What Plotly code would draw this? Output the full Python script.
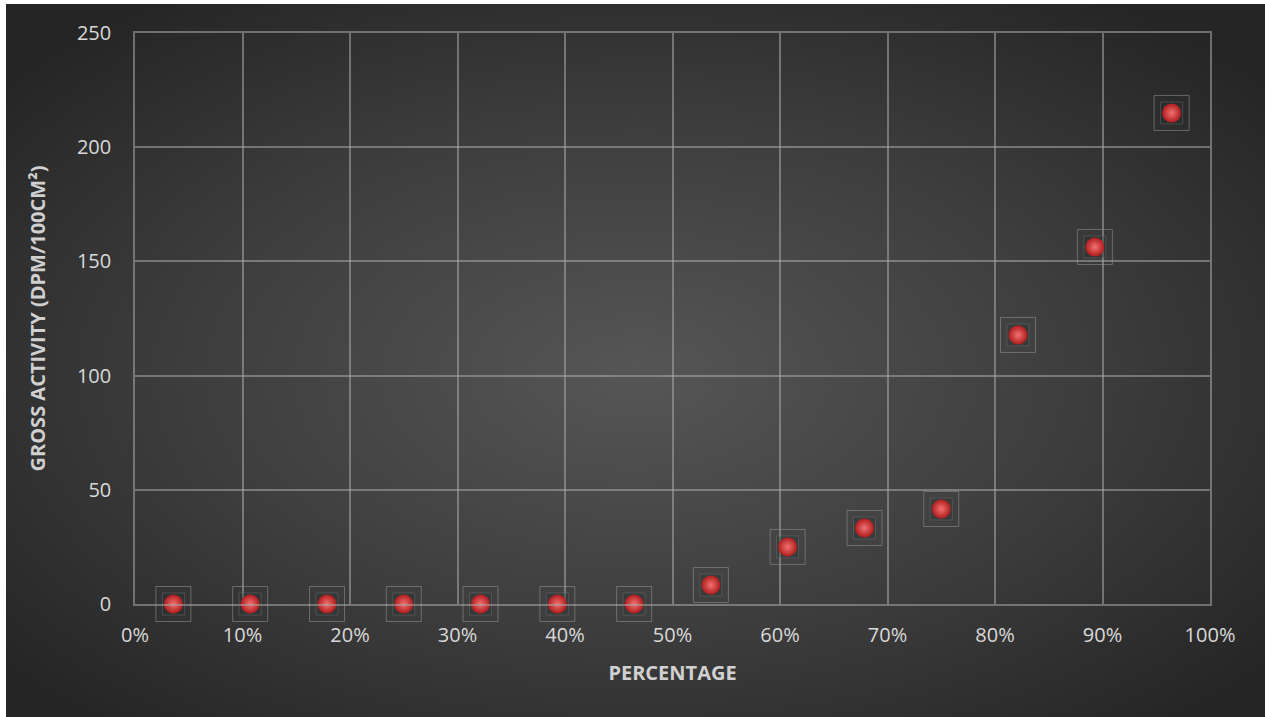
import base64
import plotly.graph_objects as go

# Data
percentage = [3.57, 10.71, 17.86, 25.0, 32.14, 39.29, 46.43, 53.57, 60.71, 67.86, 75.0, 82.14, 89.29, 96.43]
gross_activity = [0, 0, 0, 0, 0, 0, 0, 8.3, 25.0, 33.3, 41.6, 117.8, 156.3, 215.0]
x_title = "PERCENTAGE"
y_title = "GROSS ACTIVITY (DPM/100CM²)"

W, H = 1265, 717
ML, MR, MT, MB = 135, 55, 33, 113
PW, PH = W - ML - MR, H - MT - MB

svg = (
    '<svg xmlns="http://www.w3.org/2000/svg" width="1259" height="713" viewBox="0 0 1259 713" preserveAspectRatio="none">'
    '<defs><radialGradient id="g" cx="50%" cy="52%" r="65%">'
    '<stop offset="0%" stop-color="#565656"/>'
    '<stop offset="55%" stop-color="#3d3d3d"/>'
    '<stop offset="100%" stop-color="#252525"/>'
    '</radialGradient></defs>'
    '<rect width="1259" height="713" fill="url(#g)"/></svg>'
)
src = "data:image/svg+xml;base64," + base64.b64encode(svg.encode()).decode()

GRID = "rgba(170,170,170,0.55)"

fig = go.Figure()

# Excel-style selection boxes around markers
fig.add_trace(go.Scatter(
    x=percentage, y=gross_activity, mode="markers", hoverinfo="skip",
    marker=dict(symbol="square", size=22, color="rgba(30,50,50,0.3)",
                line=dict(width=1, color="rgba(120,120,120,0.4)")),
    cliponaxis=False, showlegend=False))
fig.add_trace(go.Scatter(
    x=percentage, y=gross_activity, mode="markers", hoverinfo="skip",
    marker=dict(symbol="square-open", size=35, color="rgba(150,150,150,0.55)",
                line=dict(width=1)),
    cliponaxis=False, showlegend=False))
# red spheres
fig.add_trace(go.Scatter(
    x=percentage, y=gross_activity, mode="markers",
    marker=dict(symbol="circle", size=19, color="#b01c1c",
                gradient=dict(type="radial", color="#f27272"),
                line=dict(width=0)),
    cliponaxis=False, showlegend=False))

TITLE_FONT = dict(size=20, color="#d0d0d0", family="Open Sans, sans-serif", weight="bold")

fig.update_layout(
    width=W, height=H,
    margin=dict(l=ML, r=MR, t=MT, b=MB),
    paper_bgcolor="white",
    plot_bgcolor="rgba(0,0,0,0)",
    font=dict(family="Open Sans, Lato, sans-serif", color="#d9d9d9", size=20),
    images=[dict(
        source=src, xref="paper", yref="paper",
        x=(6 - ML) / PW, y=1 + (MT - 4) / PH,
        sizex=(W - 6) / PW, sizey=(H - 4) / PH,
        sizing="stretch", xanchor="left", yanchor="top", layer="below")],
    xaxis=dict(
        range=[0, 100], dtick=10, tick0=0, ticksuffix="%",
        showgrid=True, gridcolor=GRID, gridwidth=1.5,
        zeroline=False, showline=True, linecolor=GRID, linewidth=1.5, mirror=True,
        ticks="outside", ticklen=12, tickcolor="rgba(0,0,0,0)",
        tickfont=dict(size=20, color="#d9d9d9"),
        title=dict(text=x_title, font=TITLE_FONT, standoff=19),
    ),
    yaxis=dict(
        range=[0, 250], dtick=50, tick0=0,
        showgrid=True, gridcolor=GRID, gridwidth=1.5,
        zeroline=True, zerolinecolor="#878787", zerolinewidth=3,
        showline=True, linecolor=GRID, linewidth=1.5, mirror=True,
        ticks="outside", ticklen=18, tickcolor="rgba(0,0,0,0)",
        tickfont=dict(size=20, color="#d9d9d9"),
        title=dict(text=y_title, font=TITLE_FONT, standoff=26),
    ),
)

fig.write_html("out.html")
